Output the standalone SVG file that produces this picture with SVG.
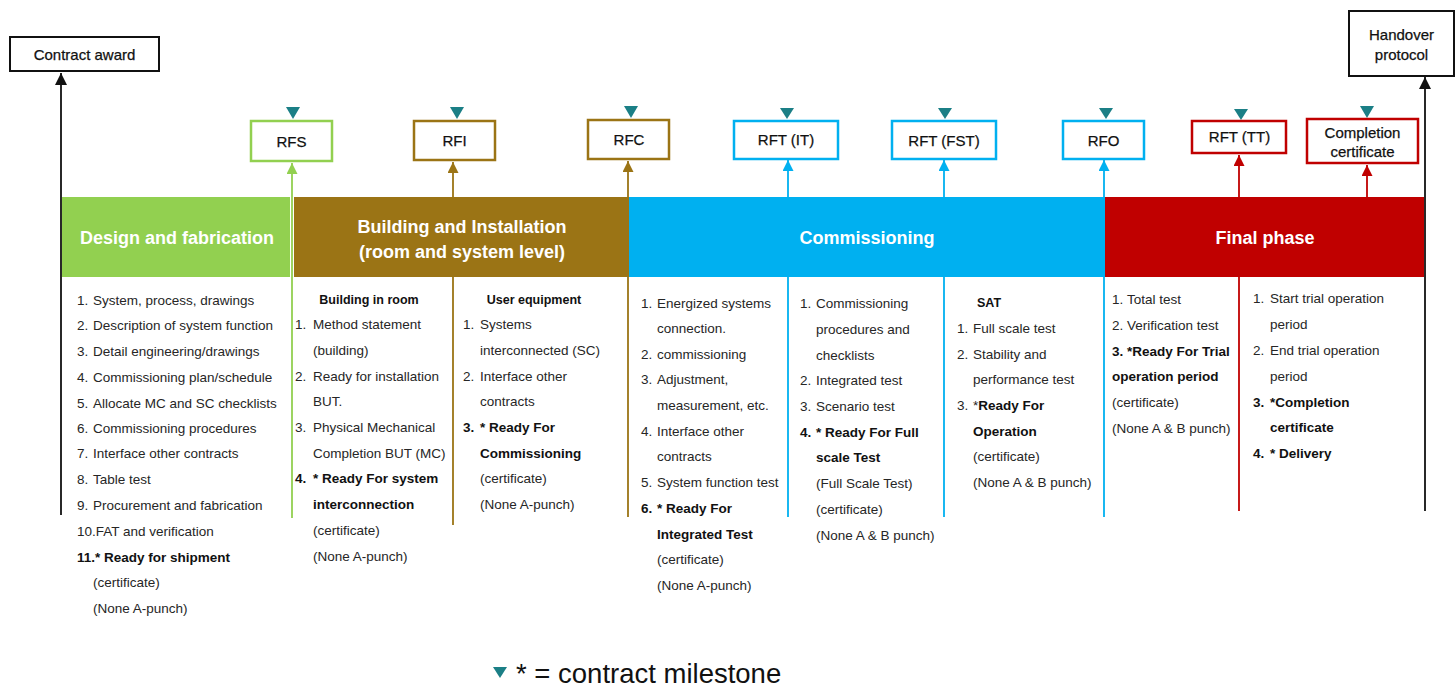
<svg xmlns="http://www.w3.org/2000/svg" width="1456" height="686" viewBox="0 0 1456 686">
  <style>
    text { font-family: "Liberation Sans", Arial, sans-serif; }
    .body { font-size: 13.5px; fill: #262626; }
    .b { font-weight: bold; fill: #111; }
    .hdr { font-size: 12.5px; font-weight: bold; fill: #111; text-anchor: middle; }
    .phase { font-size: 18px; font-weight: bold; fill: #fff; text-anchor: middle; }
    .lbl { font-size: 15px; fill: #111; text-anchor: middle; stroke: #111; stroke-width: 0.25; }
    .box { fill: #fff; stroke-width: 2.5; }
    .tri { fill: #1b7f86; }
    .ln { fill: none; stroke-width: 1.8; }
    .green { stroke: #92d050; }
    .brown { stroke: #9b7415; }
    .blue { stroke: #00b0f0; }
    .red { stroke: #c00000; }
    .black { stroke: #111; }
  </style>
  <defs>
    <marker id="ah-green" viewBox="0 0 10 10" refX="10" refY="5" markerWidth="11" markerHeight="11" markerUnits="userSpaceOnUse" orient="auto"><path d="M0,0 L10,5 L0,10 z" fill="#92d050"/></marker>
    <marker id="ah-brown" viewBox="0 0 10 10" refX="10" refY="5" markerWidth="11" markerHeight="11" markerUnits="userSpaceOnUse" orient="auto"><path d="M0,0 L10,5 L0,10 z" fill="#9b7415"/></marker>
    <marker id="ah-blue" viewBox="0 0 10 10" refX="10" refY="5" markerWidth="11" markerHeight="11" markerUnits="userSpaceOnUse" orient="auto"><path d="M0,0 L10,5 L0,10 z" fill="#00b0f0"/></marker>
    <marker id="ah-red" viewBox="0 0 10 10" refX="10" refY="5" markerWidth="11" markerHeight="11" markerUnits="userSpaceOnUse" orient="auto"><path d="M0,0 L10,5 L0,10 z" fill="#c00000"/></marker>
    <marker id="ah-black" viewBox="0 0 10 10" refX="10" refY="5" markerWidth="12" markerHeight="12" markerUnits="userSpaceOnUse" orient="auto"><path d="M0,0 L10,5 L0,10 z" fill="#111"/></marker>
  </defs>

  <rect width="1456" height="686" fill="#fff"/>

  <!-- connectors: vertical milestone lines, drawn under the phase bars -->
  <g id="connectors">
    <line class="ln black" x1="61" y1="515" x2="61" y2="73" marker-end="url(#ah-black)" stroke-width="2"/>
    <line class="ln green" x1="292" y1="518" x2="292" y2="163" marker-end="url(#ah-green)"/>
    <line class="ln brown" x1="453" y1="525" x2="453" y2="162" marker-end="url(#ah-brown)"/>
    <line class="ln brown" x1="628" y1="517" x2="628" y2="161" marker-end="url(#ah-brown)"/>
    <line class="ln blue" x1="788" y1="517" x2="788" y2="160" marker-end="url(#ah-blue)"/>
    <line class="ln blue" x1="944" y1="517" x2="944" y2="160" marker-end="url(#ah-blue)"/>
    <line class="ln blue" x1="1104" y1="517" x2="1104" y2="160" marker-end="url(#ah-blue)"/>
    <line class="ln red" x1="1239" y1="511" x2="1239" y2="155" marker-end="url(#ah-red)"/>
    <line class="ln red" x1="1367" y1="197" x2="1367" y2="165" marker-end="url(#ah-red)"/>
    <line class="ln black" x1="1425" y1="511" x2="1425" y2="77" marker-end="url(#ah-black)" stroke-width="2"/>
  </g>

  <!-- phase bars -->
  <g id="phase-design">
    <rect x="62" y="197" width="228" height="80" fill="#92d050"/>
    <text class="phase" x="177" y="244">Design and fabrication</text>
  </g>
  <g id="phase-building">
    <rect x="294" y="197" width="335" height="80" fill="#9b7415"/>
    <text class="phase" x="462" y="233">Building and Installation</text>
    <text class="phase" x="462" y="258">(room and system level)</text>
  </g>
  <g id="phase-commissioning">
    <rect x="629" y="197" width="476" height="80" fill="#00b0f0"/>
    <text class="phase" x="867" y="244">Commissioning</text>
  </g>
  <g id="phase-final">
    <rect x="1105" y="197" width="319" height="80" fill="#c00000"/>
    <text class="phase" x="1265" y="244">Final phase</text>
  </g>

  <!-- start / end boxes -->
  <g id="contract-award">
    <rect x="10" y="37" width="149" height="34" fill="#fff" stroke="#111" stroke-width="2"/>
    <text class="lbl" x="84.5" y="59.5">Contract award</text>
  </g>
  <g id="handover-protocol">
    <rect x="1349" y="11" width="105" height="65" fill="#fff" stroke="#111" stroke-width="2"/>
    <text class="lbl" x="1401.5" y="39.5">Handover</text>
    <text class="lbl" x="1401.5" y="59.5">protocol</text>
  </g>

  <!-- milestones -->
  <g id="rfs">
    <polygon class="tri" points="286,107 300,107 293,119"/>
    <rect class="box green" x="251" y="121" width="81" height="40"/>
    <text class="lbl" x="291.5" y="146.5">RFS</text>
  </g>
  <g id="rfi">
    <polygon class="tri" points="450,107 464,107 457,119"/>
    <rect class="box brown" x="414" y="121" width="81" height="39"/>
    <text class="lbl" x="454.5" y="146">RFI</text>
  </g>
  <g id="rfc">
    <polygon class="tri" points="624,106 638,106 631,118"/>
    <rect class="box brown" x="588" y="120" width="81" height="39"/>
    <text class="lbl" x="629" y="145">RFC</text>
  </g>
  <g id="rft-it">
    <polygon class="tri" points="780,108 794,108 787,119"/>
    <rect class="box blue" x="734" y="121" width="104" height="38"/>
    <text class="lbl" x="786" y="145">RFT (IT)</text>
  </g>
  <g id="rft-fst">
    <polygon class="tri" points="938,108 952,108 945,119"/>
    <rect class="box blue" x="892" y="121" width="104" height="38"/>
    <text class="lbl" x="944" y="145.5">RFT (FST)</text>
  </g>
  <g id="rfo">
    <polygon class="tri" points="1099,108 1113,108 1106,119"/>
    <rect class="box blue" x="1063" y="121" width="81" height="38"/>
    <text class="lbl" x="1103.5" y="145.5">RFO</text>
  </g>
  <g id="rft-tt">
    <polygon class="tri" points="1234,109 1248,109 1241,120"/>
    <rect class="box red" x="1192" y="121" width="94" height="32"/>
    <text class="lbl" x="1239.5" y="142">RFT (TT)</text>
  </g>
  <g id="completion-certificate">
    <polygon class="tri" points="1360,106 1374,106 1367,118"/>
    <rect class="box red" x="1307" y="119" width="111" height="44"/>
    <text class="lbl" x="1362.5" y="137.5">Completion</text>
    <text class="lbl" x="1362.5" y="156.5">certificate</text>
  </g>

  <!-- design and fabrication tasks -->
  <g id="list-design" class="body">
    <text x="77" y="304.5">1.<tspan x="93">System, process, drawings</tspan></text>
    <text x="77" y="330">2.<tspan x="93">Description of system function</tspan></text>
    <text x="77" y="355.5">3.<tspan x="93">Detail engineering/drawings</tspan></text>
    <text x="77" y="381.5">4.<tspan x="93">Commissioning plan/schedule</tspan></text>
    <text x="77" y="407.5">5.<tspan x="93">Allocate MC and SC checklists</tspan></text>
    <text x="77" y="432.5">6.<tspan x="93">Commissioning procedures</tspan></text>
    <text x="77" y="458">7.<tspan x="93">Interface other contracts</tspan></text>
    <text x="77" y="484">8.<tspan x="93">Table test</tspan></text>
    <text x="77" y="509.5">9.<tspan x="93">Procurement and fabrication</tspan></text>
    <text x="77" y="535.5">10.FAT and verification</text>
    <text x="77" y="561.5" class="b">11.* Ready for shipment</text>
    <text x="93" y="587">(certificate)</text>
    <text x="93" y="612.5">(None A-punch)</text>
  </g>

  <!-- building in room -->
  <g id="list-building" class="body">
    <text class="hdr" x="369" y="303.5">Building in room</text>
    <text x="295" y="328.5">1.<tspan x="313">Method statement</tspan></text>
    <text x="313" y="354.5">(building)</text>
    <text x="295" y="380.5">2.<tspan x="313">Ready for installation</tspan></text>
    <text x="313" y="405.5">BUT.</text>
    <text x="295" y="431.5">3.<tspan x="313">Physical Mechanical</tspan></text>
    <text x="313" y="457.5">Completion BUT (MC)</text>
    <text x="295" y="482.5" class="b">4.<tspan x="313">* Ready For system</tspan></text>
    <text x="313" y="508.5" class="b">interconnection</text>
    <text x="313" y="534.5">(certificate)</text>
    <text x="313" y="560.5">(None A-punch)</text>
  </g>

  <!-- user equipment -->
  <g id="list-user-equipment" class="body">
    <text class="hdr" x="534" y="303.5">User equipment</text>
    <text x="463" y="328.5">1.<tspan x="480">Systems</tspan></text>
    <text x="480" y="354.5">interconnected (SC)</text>
    <text x="463" y="380.5">2.<tspan x="480">Interface other</tspan></text>
    <text x="480" y="405.5">contracts</text>
    <text x="463" y="431.5" class="b">3.<tspan x="480">* Ready For</tspan></text>
    <text x="480" y="457.5" class="b">Commissioning</text>
    <text x="480" y="482.5">(certificate)</text>
    <text x="480" y="508.5">(None A-punch)</text>
  </g>

  <!-- commissioning: system level -->
  <g id="list-commissioning-system" class="body">
    <text x="641" y="307.5">1.<tspan x="657">Energized systems</tspan></text>
    <text x="657" y="332.5">connection.</text>
    <text x="641" y="358.5">2.<tspan x="657">commissioning</tspan></text>
    <text x="641" y="383.5">3.<tspan x="657">Adjustment,</tspan></text>
    <text x="657" y="409.5">measurement, etc.</text>
    <text x="641" y="435.5">4.<tspan x="657">Interface other</tspan></text>
    <text x="657" y="460.5">contracts</text>
    <text x="641" y="486.5">5.<tspan x="657">System function test</tspan></text>
    <text x="641" y="512.5" class="b">6.<tspan x="657">* Ready For</tspan></text>
    <text x="657" y="538.5" class="b">Integrated Test</text>
    <text x="657" y="563.5">(certificate)</text>
    <text x="657" y="589.5">(None A-punch)</text>
  </g>

  <!-- commissioning: integrated test -->
  <g id="list-commissioning-integrated" class="body">
    <text x="800" y="307.5">1.<tspan x="816">Commissioning</tspan></text>
    <text x="816" y="333.5">procedures and</text>
    <text x="816" y="359.5">checklists</text>
    <text x="800" y="384.5">2.<tspan x="816">Integrated test</tspan></text>
    <text x="800" y="410.5">3.<tspan x="816">Scenario test</tspan></text>
    <text x="800" y="436.5" class="b">4.<tspan x="816">* Ready For Full</tspan></text>
    <text x="816" y="461.5" class="b">scale Test</text>
    <text x="816" y="487.5">(Full Scale Test)</text>
    <text x="816" y="513.5">(certificate)</text>
    <text x="816" y="539.5">(None A &amp; B punch)</text>
  </g>

  <!-- commissioning: SAT -->
  <g id="list-sat" class="body">
    <text x="977" y="307" class="b" font-size="12.5">SAT</text>
    <text x="957" y="332.5">1.<tspan x="973">Full scale test</tspan></text>
    <text x="957" y="358.5">2.<tspan x="973">Stability and</tspan></text>
    <text x="973" y="383.5">performance test</text>
    <text x="957" y="410">3.<tspan x="973">*</tspan><tspan class="b">Ready For</tspan></text>
    <text x="973" y="435.5" class="b">Operation</text>
    <text x="973" y="460.5">(certificate)</text>
    <text x="973" y="486.5">(None A &amp; B punch)</text>
  </g>

  <!-- final phase: total test -->
  <g id="list-total-test" class="body">
    <text x="1112" y="303.5">1.<tspan x="1127">Total test</tspan></text>
    <text x="1112" y="329.5">2.<tspan x="1127">Verification test</tspan></text>
    <text x="1112" y="355.5" class="b">3. *Ready For Trial</text>
    <text x="1112" y="381" class="b">operation period</text>
    <text x="1112" y="407">(certificate)</text>
    <text x="1112" y="432.5">(None A &amp; B punch)</text>
  </g>

  <!-- final phase: trial operation -->
  <g id="list-trial-operation" class="body">
    <text x="1253" y="302.5">1.<tspan x="1270">Start trial operation</tspan></text>
    <text x="1270" y="328.5">period</text>
    <text x="1253" y="355">2.<tspan x="1270">End trial operation</tspan></text>
    <text x="1270" y="380.5">period</text>
    <text x="1253" y="406.5" class="b">3.<tspan x="1270">*Completion</tspan></text>
    <text x="1270" y="431.5" class="b">certificate</text>
    <text x="1253" y="457.5" class="b">4.<tspan x="1270">* Delivery</tspan></text>
  </g>

  <!-- legend -->
  <g id="legend">
    <polygon class="tri" points="493,667 507,667 500,678"/>
    <text x="516" y="682.5" font-size="27.5" fill="#111">* = contract milestone</text>
  </g>
</svg>
